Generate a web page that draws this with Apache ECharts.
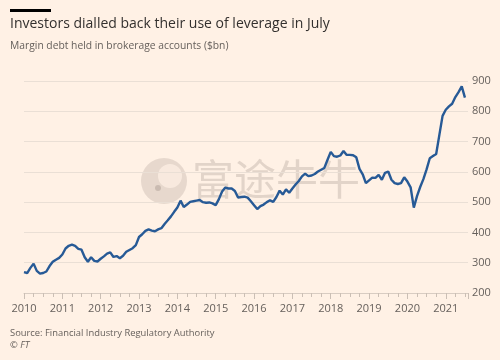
<!DOCTYPE html>
<html>
<head>
<meta charset="utf-8">
<script src="https://cdn.jsdelivr.net/npm/echarts@6/dist/echarts.min.js"></script>
<style>
html,body{margin:0;padding:0;background:#fff1e5;}
#c{width:500px;height:360px;}
</style>
</head>
<body>
<div id="c"></div>
<script>
// Monthly margin debt ($bn), Jan 2010 .. Jul 2021
var startYear = 2010;
var marginDebt = [
  269,266,283,297,273,264,266,271,289,303,310,316,           // 2010
  327,347,356,360,356,346,343,318,303,318,306,304,           // 2011
  313,321,330,334,319,322,315,323,336,342,348,358,           // 2012
  385,394,405,410,406,404,410,414,428,440,453,468,           // 2013
  482,505,484,492,501,503,505,507,500,498,499,496,           // 2014
  490,510,535,548,545,545,537,515,517,518,515,503,           // 2015
  490,477,487,492,500,506,501,517,538,525,542,531,           // 2016
  545,558,570,585,594,586,588,593,601,607,613,640,           // 2017
  666,652,650,654,669,656,656,655,648,610,592,563,           // 2018
  572,581,580,590,574,597,601,574,563,560,563,582,           // 2019
  568,549,482,520,550,576,608,645,652,659,722,785,           // 2020
  805,816,825,847,863,882,845                                // 2021
];
var yTicks = [200,300,400,500,600,700,800,900];
var xYears = [2010,2011,2012,2013,2014,2015,2016,2017,2018,2019,2020,2021];

var seriesData = marginDebt.map(function(v,i){ return [startYear + i/12, v]; });

var chart = echarts.init(document.getElementById('c'), null, {renderer:'canvas'});
var FONT = '"Open Sans", "Noto Sans", sans-serif';
chart.setOption({
  backgroundColor: '#fff1e5',
  animation: false,
  grid: {left: 24, right: 32, top: 81, bottom: 67},
  graphic: [
    {type:'rect', left:10, top:9, shape:{width:41, height:3}, style:{fill:'#000'}},
    {type:'text', left:10, top:17, style:{text:'Investors dialled back their use of leverage in July', fill:'#33302e', font:'14px '+FONT}},
    {type:'text', left:10, top:41, style:{text:'Margin debt held in brokerage accounts ($bn)', fill:'#66605c', font:'10.3px '+FONT}},
    {type:'text', left:10, top:329, style:{text:'Source: Financial Industry Regulatory Authority', fill:'#66605c', font:'9.4px '+FONT}},
    {type:'text', left:10, top:341, style:{text:'© FT', fill:'#66605c', font:'italic 9.4px '+FONT}},
    {type:'circle', z:-1, shape:{cx:164, cy:181, r:23}, style:{fill:'rgba(160,145,135,0.25)'}},
    {type:'circle', z:-1, shape:{cx:170, cy:176, r:12}, style:{fill:'rgba(255,241,229,0.7)'}},
    {type:'circle', z:-1, shape:{cx:158, cy:188, r:3}, style:{fill:'rgba(160,145,135,0.4)'}},
    {type:'text', z:-1, left:192, top:158, style:{text:'富途牛牛', fill:'rgba(160,145,135,0.3)', font:'42px "Noto Sans CJK SC"'}}
  ],
  xAxis: {
    type:'value', min:2010, max:2021.58, interval:1,
    axisLine:{show:true, lineStyle:{color:'#d8ccc2'}},
    axisTick:{show:true, length:6, lineStyle:{color:'#cbbfb5'}},
    minorTick:{show:true, splitNumber:4, length:4, lineStyle:{color:'#cbbfb5'}},
    splitLine:{show:false},
    axisLabel:{color:'#66605c', fontSize:11, fontFamily:FONT, margin:10,
      customValues: xYears, formatter:function(v){return String(Math.round(v));}}
  },
  yAxis: {
    type:'value', position:'right', min:200, max:900, interval:100,
    axisLine:{show:false}, axisTick:{show:false},
    splitLine:{lineStyle:{color:'#eadfd5'}},
    axisLabel:{color:'#66605c', fontSize:11, fontFamily:FONT, margin:4,
      formatter:function(v){return yTicks.indexOf(v)>=0 ? String(v) : '';}}
  },
  series: [{
    type:'line', data: seriesData, showSymbol:false,
    lineStyle:{color:'#275a96', width:2.4}, z:5
  }]
});
</script>
</body>
</html>
